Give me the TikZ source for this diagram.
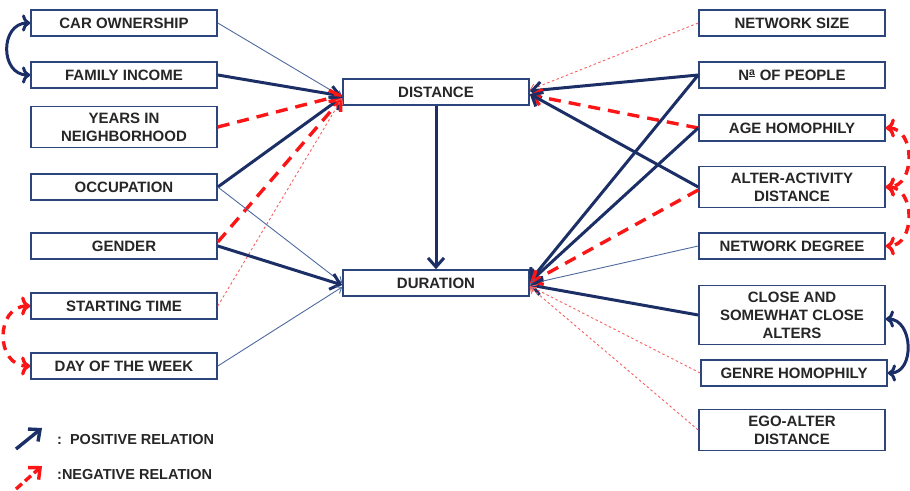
\documentclass[tikz,border=0pt]{standalone}
\usepackage{fontspec}
\setmainfont{Liberation Sans}
\usetikzlibrary{arrows.meta}

\definecolor{navy}{RGB}{28,46,102}
\definecolor{boxline}{RGB}{44,70,125}
\definecolor{thinblue}{RGB}{78,106,158}
\definecolor{negred}{RGB}{250,22,22}
\definecolor{dotred}{RGB}{246,96,96}

\begin{document}
\begin{tikzpicture}[
  x=1pt,y=-1pt,
  box/.style={draw=boxline,line width=1.6pt,fill=white,minimum width=186pt,minimum height=26pt,
    align=center,inner sep=1pt,font=\fontsize{15}{18}\selectfont\bfseries,text=black!85},
  tall/.style={box,minimum height=41pt},
  posrel/.style={draw=navy,line width=3pt,-{Straight Barb[length=9pt,width=16pt]}},
  weakrel/.style={draw=thinblue,line width=0.9pt,-{Straight Barb[length=5pt,width=8pt]}},
  negrel/.style={draw=negred,line width=3.4pt,dash pattern=on 12pt off 8pt,-{Straight Barb[length=9pt,width=16pt]}},
  faintrel/.style={draw=dotred,line width=0.9pt,dash pattern=on 2.5pt off 2.5pt,-{Straight Barb[length=5pt,width=8pt]}},
  legend/.style={font=\fontsize{14.5}{16}\selectfont\bfseries,text=black!85,anchor=west,inner sep=0pt}
]
  \useasboundingbox (0,0) rectangle (910,490);

  % left column
  \node[box] (car) at (124,23) {CAR OWNERSHIP};
  \node[box] (income) at (124,75) {FAMILY INCOME};
  \node[tall] (years) at (124,127) {YEARS IN\\NEIGHBORHOOD};
  \node[box] (occup) at (124,187) {OCCUPATION};
  \node[box] (gender) at (124,246) {GENDER};
  \node[box] (start) at (124,306) {STARTING TIME};
  \node[box] (day) at (124,366) {DAY OF THE WEEK};

  % centre
  \node[box] (dist) at (436,92) {DISTANCE};
  \node[box] (dur) at (436,283) {DURATION};

  % right column
  \node[box] (netsize) at (792,23) {NETWORK SIZE};
  \node[box] (people) at (792,75) {N\textsuperscript{\underline{a}} OF PEOPLE};
  \node[box] (agehom) at (792,128) {AGE HOMOPHILY};
  \node[tall] (alter) at (792,187) {ALTER-ACTIVITY\\DISTANCE};
  \node[box] (netdeg) at (792,246) {NETWORK DEGREE};
  \node[box,minimum height=59pt] (close) at (792,315) {CLOSE AND\\SOMEWHAT CLOSE\\ALTERS};
  \node[box] (genre) at (794,373) {GENRE HOMOPHILY};
  \node[tall] (egoalt) at (792,430) {EGO-ALTER\\DISTANCE};

  % into distance
  \draw[weakrel] (car.east) -- ([yshift=-5pt]dist.west);
  \draw[posrel] (income.east) -- ([yshift=-4pt]dist.west);
  \draw[negrel] (years.east) -- ([yshift=-3pt]dist.west);
  \draw[posrel] (occup.east) -- ([yshift=-5pt]dist.west);
  \draw[negrel] ([yshift=4pt]gender.east) -- ([yshift=-6pt]dist.west);
  \draw[faintrel] (start.east) -- ([yshift=-6pt]dist.west);
  \draw[faintrel] (netsize.west) -- ([yshift=2pt]dist.east);
  \draw[posrel] (people.west) -- ([yshift=1pt]dist.east);
  \draw[negrel] (agehom.west) -- ([yshift=-3pt]dist.east);
  \draw[posrel] (alter.west) -- ([yshift=-2pt]dist.east);

  % into duration
  \draw[posrel] (dist.south) -- (dur.north);
  \draw[weakrel] (occup.east) -- (dur.west);
  \draw[posrel] (gender.east) -- ([yshift=-2pt]dur.west);
  \draw[weakrel] (day.east) -- ([yshift=-4pt]dur.west);
  \draw[posrel] (people.west) -- ([yshift=2pt]dur.east);
  \draw[posrel] (agehom.west) -- ([yshift=1pt]dur.east);
  \draw[negrel] ([yshift=-3pt]alter.west) -- (dur.east);
  \draw[weakrel] (netdeg.west) -- ([yshift=-1pt]dur.east);
  \draw[posrel] (close.west) -- ([yshift=-2pt]dur.east);
  \draw[faintrel] (genre.west) -- ([yshift=-3pt]dur.east);
  \draw[faintrel] (egoalt.west) -- ([yshift=-4pt]dur.east);

  % links between factors
  \draw[posrel,<->] (car.west) to[out=180,in=180,looseness=1.5] (income.west);
  \draw[negrel,<->,dash pattern=on 9pt off 7pt] (start.west) to[out=180,in=180,looseness=1.5] (day.west);
  \draw[negrel,<->,dash pattern=on 9pt off 7pt] (agehom.east) to[out=0,in=0,looseness=1.3] (alter.east);
  \draw[negrel,<->,dash pattern=on 9pt off 7pt] (alter.east) to[out=0,in=0,looseness=1.3] (netdeg.east);
  \draw[posrel,<->] ([yshift=-4pt]close.east) to[out=0,in=0,looseness=1.3] (genre.east);

  % legend
  \coordinate (posfrom) at (16,449);
  \coordinate (posto) at (42,428);
  \coordinate (negfrom) at (16,489);
  \coordinate (negto) at (42,466);
  \draw[posrel,line width=3.4pt] (posfrom) -- (posto);
  \draw[negrel,dash pattern=on 8pt off 4pt] (negfrom) -- (negto);
  \node[legend] (poslab) at (57,440) {:\ \ POSITIVE RELATION};
  \node[legend] (neglab) at (57,475) {:NEGATIVE RELATION};
\end{tikzpicture}
\end{document}
